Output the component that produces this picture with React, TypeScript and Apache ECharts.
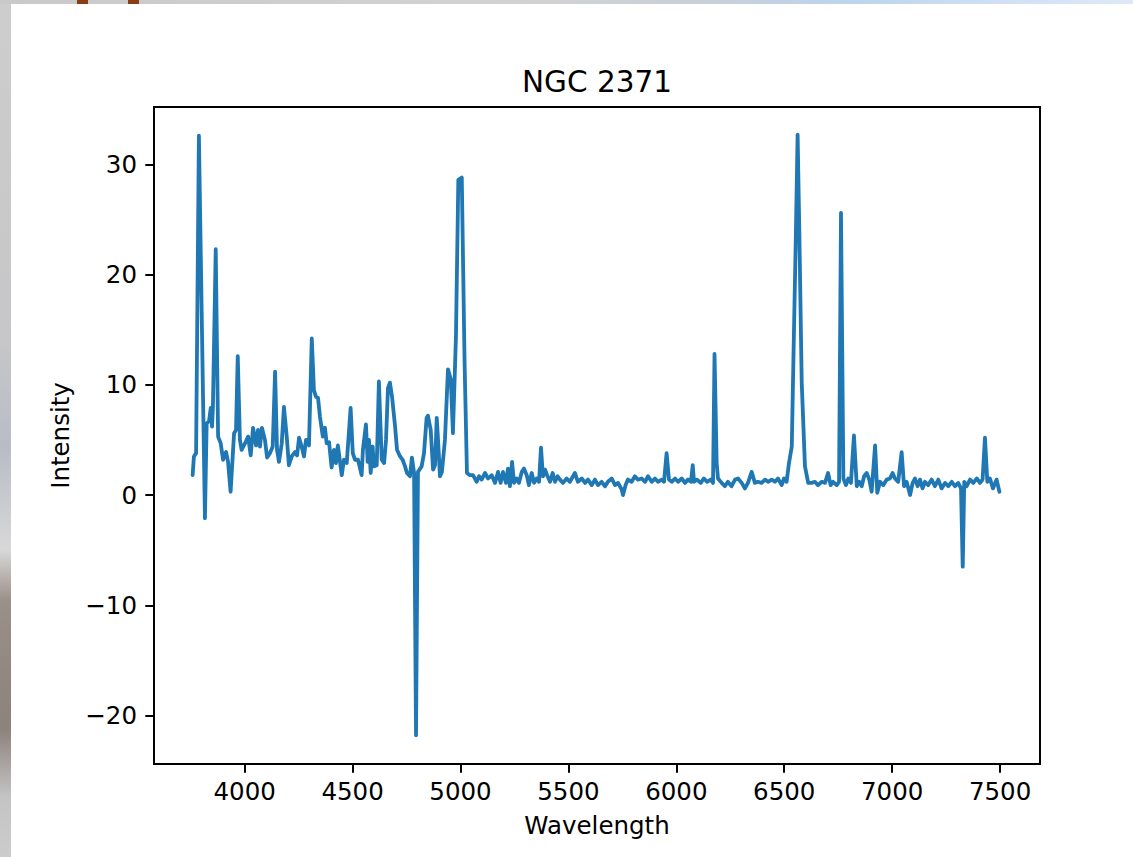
import React, { useEffect, useRef } from "react";
import * as echarts from "echarts";

const FONT = "DejaVu Sans";

const wavelength = [
  3759, 3765, 3775, 3788, 3816, 3824, 3835, 3843, 3849, 3853, 3866, 3877, 3889, 3900, 3914, 3923, 3935, 3941, 3951, 3960,
  3968, 3978, 3986, 4002, 4016, 4028, 4039, 4053, 4062, 4071, 4080, 4094, 4104, 4117, 4130, 4141, 4150, 4159, 4172, 4182,
  4195, 4205, 4218, 4233, 4243, 4252, 4264, 4275, 4284, 4298, 4311, 4321, 4331, 4340, 4349, 4362, 4372, 4380, 4391, 4403,
  4414, 4423, 4432, 4450, 4460, 4473, 4491, 4501, 4511, 4525, 4542, 4548, 4562, 4570, 4576, 4584, 4593, 4599, 4612, 4622,
  4635, 4646, 4655, 4664, 4673, 4683, 4697, 4706, 4720, 4732, 4743, 4752, 4766, 4775, 4785, 4794, 4803, 4820, 4831, 4843,
  4849, 4862, 4873, 4882, 4890, 4896, 4905, 4914, 4928, 4942, 4955, 4965, 4979, 4990, 5006, 5019, 5030, 5044, 5058, 5075,
  5086, 5098, 5114, 5127, 5145, 5160, 5174, 5186, 5197, 5211, 5220, 5229, 5239, 5248, 5260, 5271, 5284, 5294, 5307, 5317,
  5330, 5341, 5353, 5364, 5373, 5382, 5392, 5401, 5415, 5427, 5438, 5450, 5461, 5475, 5492, 5507, 5530, 5544, 5562, 5577,
  5591, 5608, 5623, 5637, 5654, 5670, 5683, 5701, 5716, 5730, 5747, 5753, 5765, 5776, 5793, 5808, 5822, 5840, 5855, 5869,
  5886, 5901, 5915, 5932, 5943, 5955, 5966, 5979, 5994, 6008, 6025, 6040, 6054, 6068, 6076, 6082, 6096, 6113, 6128, 6142,
  6159, 6170, 6177, 6187, 6193, 6210, 6225, 6239, 6256, 6272, 6286, 6303, 6318, 6332, 6349, 6364, 6378, 6395, 6411, 6425,
  6442, 6457, 6471, 6488, 6499, 6511, 6522, 6535, 6542, 6554, 6562, 6570, 6581, 6596, 6611, 6627, 6642, 6656, 6674, 6689,
  6703, 6715, 6726, 6743, 6754, 6763, 6774, 6786, 6797, 6809, 6823, 6836, 6848, 6859, 6870, 6882, 6894, 6905, 6921, 6931,
  6944, 6959, 6975, 6990, 7002, 7013, 7028, 7044, 7055, 7067, 7083, 7095, 7106, 7118, 7129, 7141, 7152, 7167, 7183, 7198,
  7214, 7229, 7245, 7260, 7276, 7291, 7306, 7319, 7327, 7334, 7345, 7361, 7376, 7392, 7407, 7419, 7430, 7441, 7453, 7467,
  7484, 7497,
];

const intensity = [
  1.8, 3.5, 3.8, 32.6, -2.1, 6.5, 6.7, 7.9, 6.2, 8.0, 22.3, 5.3, 4.7, 3.2, 3.9, 3.0, 0.3, 2.3, 5.6, 5.9,
  12.6, 5.0, 4.1, 4.7, 5.3, 3.6, 6.1, 4.5, 5.9, 4.4, 6.1, 5.0, 3.4, 3.8, 4.4, 11.2, 4.1, 3.0, 4.7, 8.0,
  5.3, 2.7, 3.5, 3.9, 3.6, 5.2, 4.4, 3.5, 5.0, 4.5, 14.2, 9.5, 8.9, 8.8, 7.1, 5.3, 6.1, 4.7, 4.8, 2.5,
  4.1, 2.9, 4.5, 1.8, 3.2, 2.9, 7.9, 3.8, 3.2, 3.2, 1.8, 4.1, 6.4, 3.0, 5.0, 2.0, 4.4, 2.6, 2.7, 10.3,
  3.2, 2.9, 5.0, 9.7, 10.2, 8.9, 6.2, 4.1, 3.5, 3.2, 2.6, 2.0, 1.7, 3.4, 2.0, -21.8, 2.1, 2.6, 3.8, 7.0,
  7.2, 5.9, 2.3, 2.7, 7.0, 5.0, 1.7, 2.1, 5.0, 11.4, 10.5, 5.6, 14.4, 28.6, 28.8, 12.0, 2.0, 1.8, 1.8, 1.2,
  1.7, 1.4, 2.0, 1.5, 1.8, 1.1, 2.1, 1.1, 2.1, 1.1, 2.4, 0.8, 3.0, 1.1, 1.5, 1.1, 2.1, 2.4, 1.8, 0.9,
  2.0, 1.1, 1.5, 1.2, 4.3, 1.7, 2.3, 1.8, 1.2, 2.0, 1.2, 1.7, 1.4, 1.1, 1.5, 1.2, 2.0, 1.2, 1.5, 1.1,
  1.4, 0.9, 1.4, 0.9, 1.2, 0.8, 1.2, 1.5, 0.9, 1.1, 0.5, 0.0, 0.9, 1.4, 1.2, 1.7, 1.4, 1.5, 1.2, 1.7,
  1.2, 1.5, 1.2, 1.4, 1.2, 3.8, 1.4, 1.2, 1.5, 1.2, 1.5, 1.1, 1.4, 1.2, 2.7, 1.2, 1.4, 1.1, 1.5, 1.2,
  1.4, 1.1, 12.8, 2.9, 1.5, 1.1, 0.8, 1.2, 0.8, 1.4, 1.5, 1.1, 0.6, 1.1, 2.1, 1.1, 1.2, 1.1, 1.4, 1.2,
  1.4, 1.2, 1.5, 0.9, 1.5, 1.2, 2.9, 4.4, 11.7, 23.8, 32.7, 23.8, 10.2, 2.6, 1.1, 1.1, 1.2, 0.9, 1.2, 1.1,
  2.0, 0.9, 1.2, 0.9, 1.2, 25.6, 1.5, 0.9, 1.5, 1.1, 5.4, 0.8, 1.2, 0.8, 1.7, 2.0, 1.4, 0.3, 4.5, 0.2,
  1.2, 0.9, 1.4, 1.5, 2.0, 1.5, 1.2, 3.9, 0.8, 1.2, 0.0, 1.1, 1.5, 0.8, 1.4, 0.6, 1.2, 0.9, 1.4, 0.8,
  1.4, 0.6, 1.1, 0.8, 1.2, 0.8, 1.1, 0.6, -6.5, 1.2, 0.8, 1.4, 1.1, 1.5, 1.1, 1.4, 5.2, 1.2, 1.5, 0.6,
  1.4, 0.3,
];

const xTicks = [4000, 4500, 5000, 5500, 6000, 6500, 7000, 7500];
const yTicks = [-20, -10, 0, 10, 20, 30];

const TITLE = "NGC 2371";
const X_NAME = "Wavelength";
const Y_NAME = "Intensity";

function fmt(v: number): string {
  return v < 0 ? "\u2212" + Math.abs(v) : String(v);
}

export default function App() {
  const ref = useRef<HTMLDivElement>(null);

  useEffect(() => {
    if (!ref.current) return;
    const chart = echarts.init(ref.current, undefined, { renderer: "svg" });
    const labelStyle = { fontFamily: FONT, fontSize: 24.5, color: "#000" };
    chart.setOption({
      animation: false,
      backgroundColor: "transparent",
      title: {
        text: TITLE,
        left: 597,
        top: 67,
        padding: 0,
        textAlign: "center",
        textStyle: { fontFamily: FONT, fontSize: 29.5, fontWeight: "normal", color: "#000" },
      },
      grid: {
        left: 154,
        top: 107,
        width: 886,
        height: 657,
        show: true,
        backgroundColor: "#fff",
        borderColor: "#000",
        borderWidth: 2,
      },
      xAxis: {
        type: "value",
        min: 3580,
        max: 7685,
        name: X_NAME,
        nameLocation: "middle",
        nameGap: 49,
        nameTextStyle: labelStyle,
        axisLine: { show: true, onZero: false, lineStyle: { color: "#000", width: 2 } },
        axisTick: { show: true, length: 8.7, customValues: xTicks, lineStyle: { color: "#000", width: 2 } },
        axisLabel: { show: true, customValues: xTicks, margin: 15, ...labelStyle, formatter: fmt },
        splitLine: { show: false },
      },
      yAxis: {
        type: "value",
        min: -24.4,
        max: 35.2,
        name: Y_NAME,
        nameLocation: "middle",
        nameGap: 81,
        nameTextStyle: labelStyle,
        axisLine: { show: true, onZero: false, lineStyle: { color: "#000", width: 2 } },
        axisTick: { show: true, length: 8.7, customValues: yTicks, lineStyle: { color: "#000", width: 2 } },
        axisLabel: { show: true, customValues: yTicks, margin: 17, ...labelStyle, formatter: fmt },
        splitLine: { show: false },
      },
      series: [
        {
          type: "line",
          data: wavelength.map((w, i) => [w, intensity[i]]),
          symbol: "none",
          showSymbol: false,
          lineStyle: { color: "#1f77b4", width: 3.8, join: "round", cap: "round" },
        },
      ],
    });
    return () => chart.dispose();
  }, []);

  return (
    <div
      style={{
        position: "fixed",
        left: 0,
        top: 0,
        width: 1133,
        height: 857,
        overflow: "hidden",
        background: "#cfcfcf",
      }}
    >
      <div
        style={{
          position: "absolute",
          left: 0,
          top: 0,
          width: 1133,
          height: 4,
          background:
            "linear-gradient(to right, #c9c9c9 0%, #d2d2d2 45%, #c8cfd8 62%, #bcd4ee 75%, #cfe0f4 88%, #dde9f6 100%)",
        }}
      />
      <div style={{ position: "absolute", left: 77, top: 0, width: 11, height: 4, background: "#8a3c12" }} />
      <div style={{ position: "absolute", left: 128, top: 0, width: 11, height: 4, background: "#8a3c12" }} />
      <div
        style={{
          position: "absolute",
          left: 0,
          top: 4,
          width: 11,
          height: 853,
          background:
            "linear-gradient(to bottom, #cdcdcd 0%, #c6c6c8 40%, #b8bcc4 52%, #d8d8d8 64%, #9a8f8a 70%, #8c827e 85%, #c4c4c4 93%, #cccccc 100%)",
        }}
      />
      <div style={{ position: "absolute", left: 11, top: 4, right: 0, bottom: 0, background: "#fff" }} />
      <div ref={ref} style={{ position: "absolute", left: 0, top: 0, width: 1133, height: 857 }} />
    </div>
  );
}
